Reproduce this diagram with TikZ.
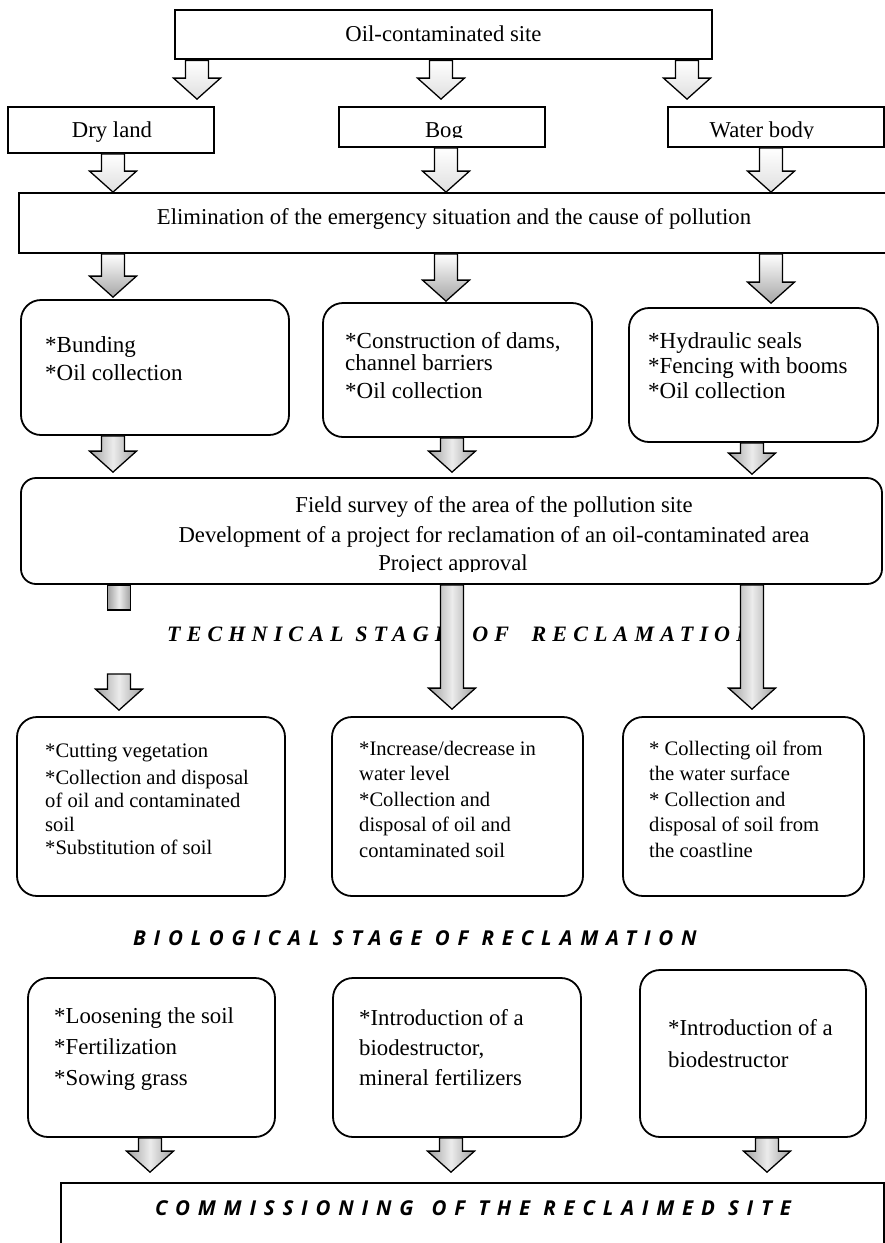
\documentclass[tikz,border=0pt]{standalone}
\usepackage{fontspec}
\setmainfont{Liberation Serif}
\newfontfamily\techfont[LetterSpace=28]{Liberation Serif}
\newfontfamily\biofont[LetterSpace=38]{Open Sans}
\usetikzlibrary{calc}
% block arrow: #2 start point (top of shaft), #3 point giving the tip
\newcommand{\barrow}[3][]{%
  \path[#1] let \p1=#2, \p2=#3 in
    (\x1-11.5pt,\y1) -- (\x1+11.5pt,\y1) -- (\x1+11.5pt,\y2+21pt) -- (\x1+23.5pt,\y2+21pt)
    -- (\x1,\y2) -- (\x1-23.5pt,\y2+21pt) -- (\x1-11.5pt,\y2+21pt) -- cycle;}
\begin{document}
\begin{tikzpicture}[x=1pt,y=-1pt,
  mainfont/.style={font=\fontsize{22.7}{26}\selectfont},
  bx/.style={draw, line width=1.8pt, fill=white, inner sep=0pt},
  rbx/.style={bx, rounded corners=20pt},
  txt/.style={mainfont, inner sep=0pt},
  ltxt/.style={inner sep=0pt, anchor=north west, align=left},
  stagetxt/.style={inner sep=0pt, anchor=base west, font=\biofont\bfseries\itshape\fontsize{20.5}{24}\selectfont},
  wa/.style={draw, line width=1.3pt, top color=white, bottom color=gray!25},
  ea/.style={draw, line width=1.3pt, top color=white, bottom color=gray!70},
  ga/.style={draw, line width=1.3pt, left color=gray!75, right color=gray!75, middle color=gray!15}]
\fill[white] (0,0) rectangle (885,1243);
\useasboundingbox (0,0) rectangle (885,1243);

% arrow columns
\coordinate (c1) at (197,0);
\coordinate (c2) at (441,0);
\coordinate (c3) at (687,0);
\coordinate (c4) at (113,0);
\coordinate (c5) at (446,0);
\coordinate (c6) at (771,0);
\coordinate (c7) at (119,0);
\coordinate (c8) at (452,0);
\coordinate (c9) at (752,0);
\coordinate (c10) at (150,0);
\coordinate (c11) at (451,0);
\coordinate (c12) at (767,0);

% ---------- top ----------
\node[bx, line width=2.8pt, minimum width=537pt, minimum height=49pt] (top) at (443.5,34.5) {};
\node[txt, anchor=base] (ttop) at (443.5,41) {Oil-contaminated site};

\node[bx, minimum width=206pt, minimum height=46pt] (dry) at (111,130) {};
\node[txt, anchor=base] (tdry) at (112,137) {Dry land};
\node[bx, minimum width=206pt, minimum height=40pt] (bog) at (442,127) {};
\node[bx, minimum width=216pt, minimum height=40pt] (water) at (776,127) {};
\begin{scope}
  \clip (340,108) rectangle (544,137.5);
  \node[txt, anchor=base] (tbog) at (444,137) {Bog};
\end{scope}
\begin{scope}
  \clip (669,108) rectangle (883,138);
  \node[txt, anchor=base] (twater) at (762,137) {Water body};
\end{scope}

\node[bx, minimum width=876pt, minimum height=60pt] (elim) at (457,223) {};
\node[txt, anchor=base] (telim) at (454,224) {Elimination of the emergency situation and the cause of pollution};

% ---------- row 1 ----------
\node[rbx, minimum width=268pt, minimum height=135pt] (r1a) at (155,367.5) {};
\node[rbx, minimum width=269pt, minimum height=134pt] (r1b) at (457.5,370) {};
\node[rbx, minimum width=249pt, minimum height=134pt] (r1c) at (753.5,375) {};
\node[ltxt, font=\fontsize{23}{25}\selectfont] (t1a) at (45,336) {\rule{0pt}{16pt}*Bunding\\[3pt]*Oil collection};
\node[ltxt, font=\fontsize{23}{22}\selectfont] (t1b) at (345,332) {\rule{0pt}{16pt}*Construction of dams,\\channel barriers\\[6pt]*Oil collection};
\node[ltxt, font=\fontsize{23}{25}\selectfont] (t1c) at (648,332) {\rule{0pt}{16pt}*Hydraulic seals\\*Fencing with booms\\*Oil collection};

% ---------- field survey ----------
\node[bx, rounded corners=15pt, minimum width=861pt, minimum height=106pt] (field) at (451.5,531) {};
\node[txt, anchor=base] (tf1) at (494,512) {Field survey of the area of the pollution site};
\node[txt, anchor=base] (tf2) at (494,542) {Development of a project for reclamation of an oil-contaminated area};
\begin{scope}
  \clip (100,545) rectangle (800,571);
  \node[txt, anchor=base] (tf3) at (453,570) {Project approval};
\end{scope}

% ---------- technical stage ----------
\node[inner sep=0pt, anchor=base west, font=\techfont\bfseries\itshape\fontsize{22}{26}\selectfont] (tech) at (167,641) {TECHNICAL STAGE\hspace{11pt} OF\hspace{11pt} RECLAMATION};

% ---------- row 2 ----------
\node[rbx, minimum width=268pt, minimum height=179pt] (r2a) at (151,806.5) {};
\node[rbx, minimum width=251pt, minimum height=179pt] (r2b) at (457.5,806.5) {};
\node[rbx, minimum width=241pt, minimum height=179pt] (r2c) at (743.5,806.5) {};
\node[ltxt, font=\fontsize{20.6}{23.5}\selectfont] (t2a) at (45,742) {\rule{0pt}{15pt}*Cutting vegetation\\[3.5pt]*Collection and disposal\\of oil and contaminated\\soil\\*Substitution of soil};
\node[ltxt, font=\fontsize{20.6}{25.5}\selectfont] (t2b) at (359,740) {\rule{0pt}{15pt}*Increase/decrease in\\water level\\*Collection and\\disposal of oil and\\contaminated soil};
\node[ltxt, font=\fontsize{20.6}{25.5}\selectfont] (t2c) at (649,740) {\rule{0pt}{15pt}* Collecting oil from\\the water surface\\* Collection and\\disposal of soil from\\the coastline};

% ---------- biological stage ----------
\node[stagetxt] (bio) at (133,945) {BIOLOGICAL STAGE OF RECLAMATION};

% ---------- row 3 ----------
\node[rbx, minimum width=247pt, minimum height=159pt] (r3a) at (151.5,1057.5) {};
\node[rbx, minimum width=248pt, minimum height=159pt] (r3b) at (457,1057.5) {};
\node[rbx, minimum width=226pt, minimum height=167pt] (r3c) at (753,1053.5) {};
\node[ltxt, font=\fontsize{22.8}{31}\selectfont] (t3a) at (54,1007) {\rule{0pt}{16pt}*Loosening the soil\\*Fertilization\\*Sowing grass};
\node[ltxt, font=\fontsize{22.8}{30}\selectfont] (t3b) at (359,1009) {\rule{0pt}{16pt}*Introduction of a\\biodestructor,\\mineral fertilizers};
\node[ltxt, font=\fontsize{22.8}{32}\selectfont] (t3c) at (668,1019) {\rule{0pt}{16pt}*Introduction of a\\biodestructor};

% ---------- final ----------
\node[bx, minimum width=823pt, minimum height=90pt] (final) at (472.5,1228) {};
\node[stagetxt] (tfinal) at (155,1215) {COMMISSIONING\hspace{5pt} OF THE RECLAIMED SITE};

% ---------- arrows ----------
\barrow[wa]{(top.south -| c1)}{($(dry.north -| c1)+(0,-7)$)}
\barrow[wa]{(top.south -| c2)}{($(bog.north -| c2)+(0,-7)$)}
\barrow[wa]{(top.south -| c3)}{($(water.north -| c3)+(0,-7)$)}
\barrow[wa]{(dry.south -| c4)}{(elim.north -| c4)}
\barrow[wa]{(bog.south -| c5)}{(elim.north -| c5)}
\barrow[wa]{(water.south -| c6)}{(elim.north -| c6)}
\barrow[ea]{(elim.south -| c4)}{($(r1a.north -| c4)+(0,-2)$)}
\barrow[ea]{(elim.south -| c5)}{($(r1b.north -| c5)+(0,-1)$)}
\barrow[ea]{(elim.south -| c6)}{($(r1c.north -| c6)+(0,-4)$)}
\barrow[ga]{(r1a.south -| c4)}{($(field.north -| c4)+(0,-5)$)}
\barrow[ga]{(r1b.south -| c8)}{($(field.north -| c8)+(0,-5)$)}
\barrow[ga]{(r1c.south -| c9)}{($(field.north -| c9)+(0,-3)$)}
% broken left arrow
\draw[ga] ($(field.south -| c7)+(-11.5,0)$) rectangle ($(field.south -| c7)+(11.5,25)$);
\coordinate (lstart) at (119,674);
\barrow[ga]{(lstart)}{($(r2a.north -| c7)+(0,-6)$)}
\barrow[ga]{(field.south -| c8)}{($(r2b.north -| c8)+(0,-7)$)}
\barrow[ga]{(field.south -| c9)}{($(r2c.north -| c9)+(0,-7)$)}
\barrow[ga]{(r3a.south -| c10)}{($(final.north -| c10)+(0,-10)$)}
\barrow[ga]{(r3b.south -| c11)}{($(final.north -| c11)+(0,-10)$)}
\barrow[ga]{(r3c.south -| c12)}{($(final.north -| c12)+(0,-10)$)}
\end{tikzpicture}
\end{document}
